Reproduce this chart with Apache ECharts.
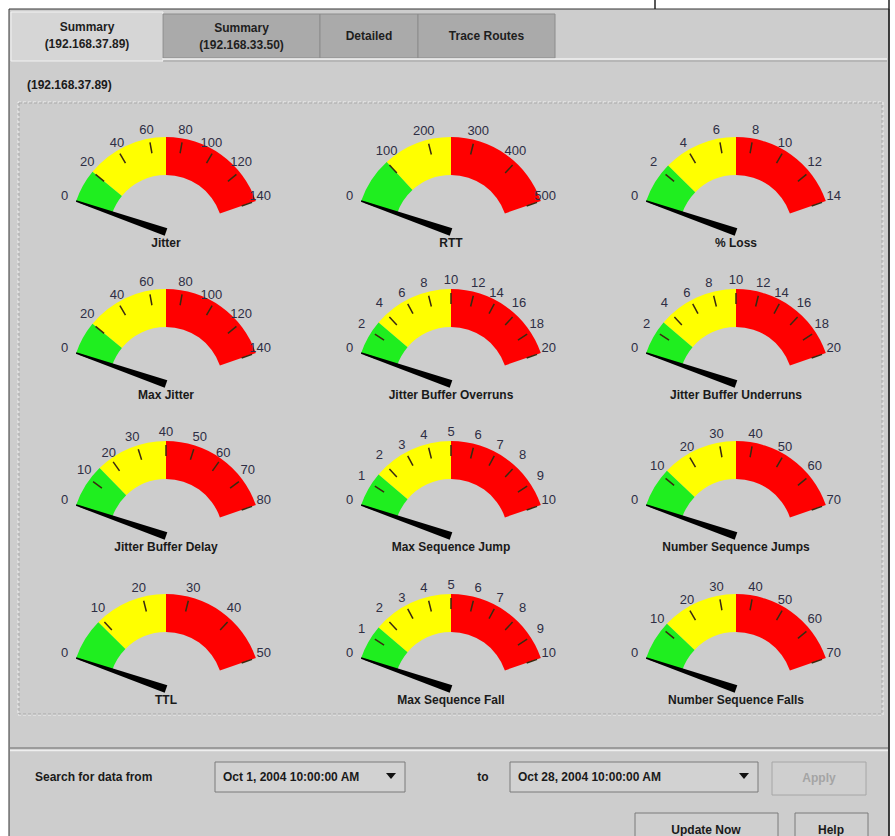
<!DOCTYPE html>
<html><head><meta charset="utf-8">
<script src="https://cdn.jsdelivr.net/npm/echarts@6/dist/echarts.min.js"></script>
<style>html,body{margin:0;padding:0;background:#fff;}#c{width:895px;height:836px;}</style>
</head><body><div id="c"></div>
<script>
// ---- data ----
const gaugeTitles = ['Jitter','RTT','% Loss','Max Jitter','Jitter Buffer Overruns','Jitter Buffer Underruns','Jitter Buffer Delay','Max Sequence Jump','Number Sequence Jumps','TTL','Max Sequence Fall','Number Sequence Falls'];
const maxValues   = [140, 500, 14, 140, 20, 20, 80, 10, 70, 50, 10, 70];
const tickSteps   = [20, 100, 2, 20, 2, 2, 10, 1, 10, 10, 1, 10];
const greenLimits = [20, 100, 2.5, 20, 3, 3, 15, 1.5, 12, 9, 1.5, 12];
const yellowLimits= [70, 250, 7, 70, 10, 10, 40, 5, 35, 25, 5, 35];
const currentValues = [0,0,0,0,0,0,0,0,0,0,0,0];
const tabLabels = ['Summary\n(192.168.37.89)','Summary\n(192.168.33.50)','Detailed','Trace Routes'];
const hostLabel = '(192.168.37.89)';
const fromDate = 'Oct 1, 2004 10:00:00 AM';
const toDate = 'Oct 28, 2004 10:00:00 AM';

// ---- layout ----
const colX = [166, 451, 736];
const rowY = [232, 384, 536, 689];
const FONT = "'Liberation Sans', Arial, sans-serif";
const BOLD = 'bold 12px ' + FONT;

const series = gaugeTitles.map((t, i) => {
  const M = maxValues[i];
  return {
    type: 'gauge', z: 3,
    center: [colX[i % 3], rowY[Math.floor(i / 3)]],
    radius: 95, startAngle: 161, endAngle: 19,
    min: 0, max: M, splitNumber: Math.round(M / tickSteps[i]),
    axisLine: { lineStyle: { width: 38, color: [[greenLimits[i] / M, '#1fee1f'], [yellowLimits[i] / M, '#ffff00'], [1, '#ff0000']] } },
    splitLine: { show: true, distance: -34, length: 11, lineStyle: { color: '#3a2a10', width: 1.5 } },
    axisTick: { show: false },
    axisLabel: { distance: 7, color: '#2e2e44', fontSize: 13, fontFamily: FONT },
    pointer: { icon: 'path://M4,0 L6,0 L10,100 L0,100 Z', length: '100%', width: 8, offsetCenter: [0, 0], itemStyle: { color: '#000' } },
    anchor: { show: false },
    progress: { show: false },
    title: { offsetCenter: [0, 11], fontSize: 12, fontWeight: 'bold', color: '#1a1a1a', fontFamily: FONT },
    detail: { show: false },
    data: [{ value: currentValues[i], name: t }]
  };
});

function txt(s, x, y, align, font, fill) {
  return { type: 'text', z: 1, style: { text: s, x: x, y: y, align: align, textAlign: align, verticalAlign: 'middle', textVerticalAlign: 'middle', font: font || BOLD, fill: fill || '#1a1a1a', lineHeight: 17 } };
}
function rect(x, y, w, h, fill, stroke, extra) {
  return Object.assign({ type: 'rect', z: 0, shape: { x: x, y: y, width: w, height: h }, style: { fill: fill, stroke: stroke || null, lineWidth: 1 } }, extra || {});
}
function line(x1, y1, x2, y2, color, w, dash) {
  return { type: 'line', z: 1, shape: { x1: x1, y1: y1, x2: x2, y2: y2 }, style: { stroke: color, lineWidth: w || 1, lineDash: dash || null } };
}
function tri(x, y) {
  return { type: 'polygon', z: 1, shape: { points: [[x - 5, y - 3], [x + 5, y - 3], [x, y + 3]] }, style: { fill: '#111' } };
}

const tabs = [[11, 163, 12, 61, '#d6d6d6'], [163, 320, 14, 58, '#aaaaaa'], [320, 418, 14, 58, '#aaaaaa'], [418, 555, 14, 58, '#aaaaaa']];
const graphics = [
  rect(9, 9, 880, 835, '#cdcdcd', '#333333'),
  line(655, 0, 655, 9, '#222', 1.5),
  line(163, 59, 887, 59, '#f0f0f0', 1.5),
  line(163, 61, 887, 61, '#a0a0a0', 1)
];
tabs.forEach((t, i) => {
  graphics.push(rect(t[0], t[2], t[1] - t[0], t[3] - t[2], t[4], i === 0 ? '#f2f2f2' : '#8c8c8c'));
  graphics.push(txt(tabLabels[i], (t[0] + t[1]) / 2, (t[2] + t[3]) / 2 + (i === 0 ? -1 : 0), 'center', BOLD, '#1e1e1e'));
});
graphics.push(
  txt(hostLabel, 27, 85, 'left'),
  rect(18, 102, 865, 613, null, null, { style: { fill: null, stroke: '#efefef', lineWidth: 1, lineDash: [3, 2] } }),
  rect(19, 103, 863, 611, null, null, { style: { fill: null, stroke: '#a9a9a9', lineWidth: 1, lineDash: [3, 2] } }),
  line(10, 748, 888, 748, '#8a8a8a', 1.5),
  line(10, 750.5, 888, 750.5, '#efefef', 1.5),
  txt('Search for data from', 35, 777, 'left'),
  rect(215, 762, 190, 30, '#d2d2d2', '#7a7a7a'),
  txt(fromDate, 223, 777, 'left'),
  tri(391, 776),
  txt('to', 483, 777, 'center'),
  rect(510, 762, 248, 30, '#d2d2d2', '#7a7a7a'),
  txt(toDate, 518, 777, 'left'),
  tri(744, 776),
  rect(772, 762, 94, 33, '#cfcfcf', '#a6a6a6'),
  txt('Apply', 819, 778, 'center', BOLD, '#a4a4a4'),
  rect(635, 813, 143, 32, '#cfcfcf', '#7a7a7a'),
  txt('Update Now', 706, 830, 'center'),
  rect(795, 813, 73, 32, '#cfcfcf', '#7a7a7a'),
  txt('Help', 831, 830, 'center'),
  line(889, 0, 889, 836, '#222', 1.5)
);

const chart = echarts.init(document.getElementById('c'), null, { renderer: 'svg' });
chart.setOption({ backgroundColor: '#ffffff', animation: false, graphic: { elements: graphics }, series: series });
</script></body></html>
